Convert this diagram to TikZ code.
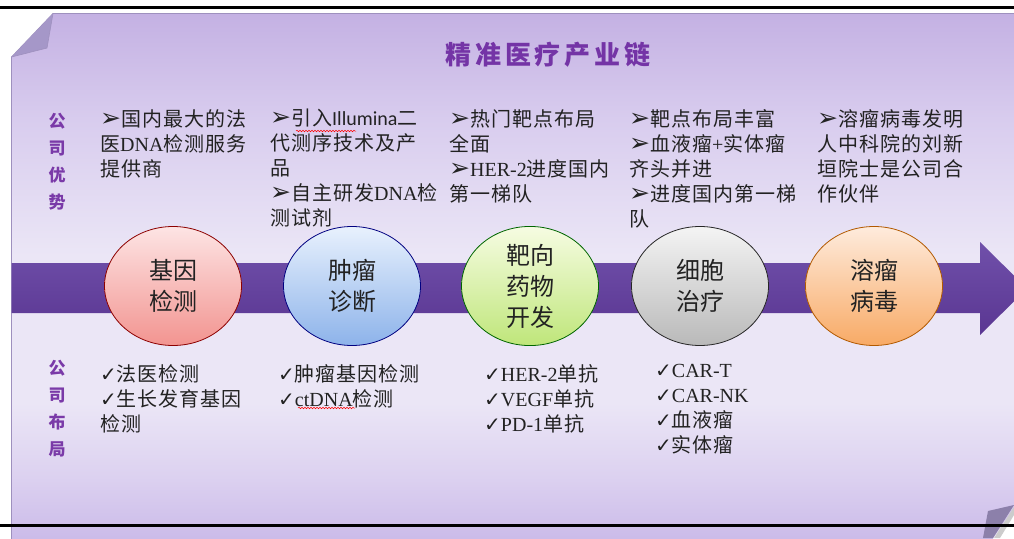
\documentclass[tikz,border=0pt]{standalone}
\usepackage{fontspec}
\setmainfont{Noto Sans CJK SC}
\newfontfamily\symf{DejaVu Sans}
\newfontfamily\enf{Liberation Serif}
\newfontfamily\ilf{Carlito}
\usetikzlibrary{shapes.geometric,decorations.pathmorphing}
\definecolor{slideTop}{HTML}{C4B1E3}
\definecolor{slideHi}{HTML}{D8CCEE}
\definecolor{slideMid}{HTML}{EBE6F6}
\definecolor{slideLo}{HTML}{DCD1F0}
\definecolor{slideBot}{HTML}{CBBBE9}
\definecolor{slideEdge}{HTML}{9E90BE}
\definecolor{titlec}{HTML}{7434A6}
\definecolor{labelc}{HTML}{7A3AA8}
\definecolor{bandTop}{HTML}{7050AA}
\definecolor{bandBot}{HTML}{5A3692}
\definecolor{foldc}{HTML}{A597C8}
\definecolor{txt}{HTML}{222222}
\pgfdeclareverticalshading{slidesh}{100bp}{color(0bp)=(slideBot); color(25bp)=(slideBot);
  color(31bp)=(slideLo); color(38bp)=(slideMid); color(52bp)=(slideMid);
  color(65bp)=(slideHi); color(75bp)=(slideTop); color(100bp)=(slideTop)}
\newcommand\arw{{\symf\fontsize{25}{25}\selectfont ➢}}
\newcommand\chk{{\symf\fontsize{20}{20}\selectfont ✓}}
\newcommand\en[1]{{\enf #1}}
\newcommand\il[1]{{\ilf #1}}
\tikzset{
  bub/.style={ellipse, minimum width=137, minimum height=119, inner sep=0,
    line width=0.8, align=center, font=\fontsize{24}{31}\selectfont, text=txt},
  lab/.style={align=center, inner sep=0, text=labelc,
    font=\fontsize{17}{27}\selectfont\bfseries},
  tx/.style={anchor=north west, align=left, inner sep=0, text=txt,
    font=\fontsize{20}{25}\selectfont\addfontfeature{LetterSpace=5}},
  squig/.style={red, line width=0.5, decorate,
    decoration={snake, amplitude=0.8, segment length=3}}
}
\begin{document}
\begin{tikzpicture}[x=1pt,y=-1pt]
\useasboundingbox (0,0) rectangle (1014,538);
\clip (0,0) rectangle (1014,538);
\fill[white] (0,0) rectangle (1014,538);
% slide
\shade[shading=slidesh]
  (11.5,57) -- (53,13.5) -- (1016,13.5) -- (1016,505) -- (992,540) -- (11.5,540) -- cycle;
\draw[slideEdge, line width=0.8]
  (11.5,540) -- (11.5,57) -- (53,13.5) -- (1016,13.5);
% folds
\fill[foldc] (53,13.5) -- (47,48) -- (11.5,57) -- cycle;
\draw[slideEdge, line width=0.6] (53,13.5) -- (47,48) -- (11.5,57);
\fill[foldc!85!black] (1014,505) -- (988,511) -- (983,538) -- (993,538) -- cycle;
\fill[gray!40] (1014,507) -- (994,538) -- (1000,538) -- (1014,515) -- cycle;
% black rules
\draw[line width=3] (0,7) -- (1014,7);
\draw[line width=3] (0,525) -- (1014,525);
% title
\node[font=\fontsize{26}{26}\selectfont\bfseries\addfontfeature{LetterSpace=15}, text=titlec]
  (title) at (548,55) {精准医疗产业链};
% band arrow
\shade[top color=bandTop, bottom color=bandBot]
  (11.5,263) -- (980,263) -- (980,242) -- (1027,288.5) -- (980,335) -- (980,313) -- (11.5,313) -- cycle;
% bubbles
\definecolor{pkT}{HTML}{FDE4E4}\definecolor{pkB}{HTML}{F29490}
\definecolor{blT}{HTML}{E8F1FD}\definecolor{blB}{HTML}{8DB3EA}
\definecolor{grT}{HTML}{F6FCE2}\definecolor{grB}{HTML}{BFE67A}
\definecolor{gyT}{HTML}{F4F4F4}\definecolor{gyB}{HTML}{B9B9B9}
\definecolor{orT}{HTML}{FEEBDC}\definecolor{orB}{HTML}{F8AA66}
\node[bub, draw=red!55!black, top color=pkT, bottom color=pkB] (gene) at (173,286) {基因\\检测};
\node[bub, draw=blue!50!black, top color=blT, bottom color=blB] (tumor) at (352,286) {肿瘤\\诊断};
\node[bub, draw=green!40!black, top color=grT, bottom color=grB] (drug) at (530,286) {靶向\\药物\\开发};
\node[bub, draw=black!85, top color=gyT, bottom color=gyB] (cell) at (700,286) {细胞\\治疗};
\node[bub, draw=orange!70!black, top color=orT, bottom color=orB] (virus) at (874,286) {溶瘤\\病毒};
% side labels
\node[lab] (adv) at (57,162) {公\\司\\优\\势};
\node[lab] (lay) at (57,409) {公\\司\\布\\局};
% top texts
\node[tx] (t1) at (100,109) {\arw 国内最大的法\\医\en{DNA}检测服务\\提供商};
\node[tx] (t2) at (270,109) {\arw 引入\il{Illumina}二\\代测序技术及产\\品\\\arw 自主研发\en{DNA}检\\测试剂};
\node[tx] (t3) at (449,109) {\arw 热门靶点布局\\全面\\\arw \en{HER-2}进度国内\\第一梯队};
\node[tx] (t4) at (629,109) {\arw 靶点布局丰富\\\arw 血液瘤\en{+}实体瘤\\齐头并进\\\arw 进度国内第一梯\\队};
\node[tx] (t5) at (817,109) {\arw 溶瘤病毒发明\\人中科院的刘新\\垣院士是公司合\\作伙伴};
% bottom texts
\node[tx] (b1) at (100,364) {\chk 法医检测\\\chk 生长发育基因\\检测};
\node[tx] (b2) at (278,364) {\chk 肿瘤基因检测\\\chk \en{ctDNA}检测};
\node[tx] (b3) at (484,364) {\chk \en{HER-2}单抗\\\chk \en{VEGF}单抗\\\chk \en{PD-1}单抗};
\node[tx] (b4) at (655,364) {\chk \en{CAR-T}\\\chk \en{CAR-NK}\\\chk 血液瘤\\\chk 实体瘤};
% spell-check squiggles
\draw[squig] (296,131) -- (356,131);
\draw[squig] (298,408) -- (355,408);
\end{tikzpicture}
\end{document}
